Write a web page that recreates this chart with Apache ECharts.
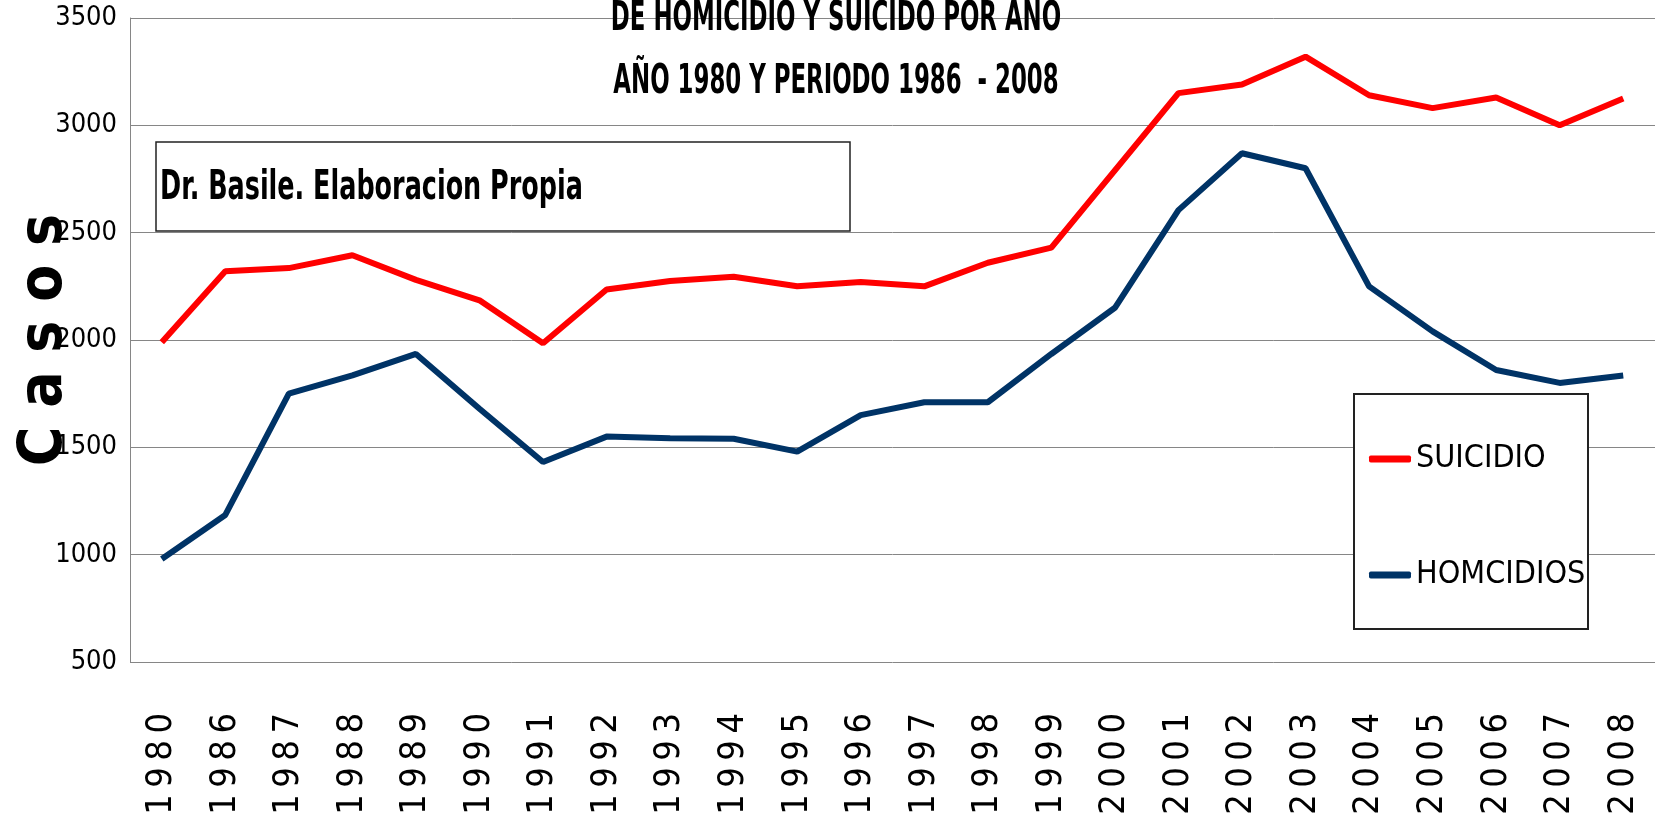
<!DOCTYPE html>
<html>
<head>
<meta charset="utf-8">
<script src="https://cdn.jsdelivr.net/npm/echarts@6/dist/echarts.min.js"></script>
<style>
    html, body { margin: 0; padding: 0; background: #fff; }
    #chart { width: 1674px; height: 818px; }
</style>
</head>
<body>
<div id="chart"></div>
<script>
    const years = ['1980', '1986', '1987', '1988', '1989', '1990', '1991', '1992', '1993', '1994', '1995', '1996',
        '1997', '1998', '1999', '2000', '2001', '2002', '2003', '2004', '2005', '2006', '2007', '2008']
    const suicidio = [1990, 2320, 2335, 2395, 2280, 2185, 1985, 2235, 2275, 2295, 2250, 2270,
        2250, 2360, 2430, 2790, 3150, 3190, 3320, 3140, 3080, 3130, 3000, 3125]
    const homicidios = [980, 1185, 1750, 1835, 1935, 1680, 1432, 1550, 1542, 1540, 1480, 1650,
        1710, 1710, 1935, 2150, 2605, 2870, 2800, 2250, 2040, 1860, 1800, 1835]
    const yTicks = {min: 500, max: 3500, interval: 500}
    const titleLines = ['DE HOMICIDIO Y SUICIDO POR ANO', 'AÑO 1980 Y PERIODO 1986  - 2008']
    const note = 'Dr. Basile. Elaboracion Propia'

    const narrow = '"DejaVu Sans Condensed", "DejaVu Sans", sans-serif'
    const gridColor = '#868686'

    // squeezed bold text, the source uses a tall narrow font
    function squeezed(text, x, y, align, size, sx) {
        return {
            type: 'text',
            x: x,
            y: y,
            scaleX: sx,
            z: 11,
            style: {
                text: text,
                fontFamily: narrow,
                fontWeight: 'bold',
                fontSize: size,
                fill: '#000',
                align: align,
                verticalAlign: 'middle'
            }
        }
    }

    const chart = echarts.init(document.getElementById('chart'))
    chart.setOption({
        animation: false,
        grid: {left: 130, right: 19, top: 18, bottom: 156, outerBoundsMode: 'none', containLabel: false},
        legend: {
            orient: 'vertical',
            left: 1364,
            top: 438,
            itemGap: 84,
            itemWidth: 42,
            itemHeight: 7,
            icon: 'roundRect',
            textStyle: {fontFamily: narrow, fontSize: 32, color: '#000'},
            data: ['SUICIDIO', 'HOMCIDIOS']
        },
        xAxis: {
            type: 'category',
            data: years,
            boundaryGap: true,
            axisLine: {show: false},
            axisTick: {show: false},
            axisLabel: {
                rotate: 90,
                margin: 51,
                fontFamily: narrow,
                fontSize: 36,
                color: '#000',
                formatter: v => v.split('').join('\u2009')
            }
        },
        yAxis: {
            type: 'value',
            min: yTicks.min,
            max: yTicks.max,
            interval: yTicks.interval,
            name: 'C a s o s',
            nameLocation: 'middle',
            nameRotate: 90,
            nameGap: 55,
            nameMoveOverlap: false,
            nameTextStyle: {fontFamily: narrow, fontWeight: 'bold', fontSize: 60, color: '#000'},
            axisLine: {show: true, lineStyle: {color: gridColor, width: 1}},
            axisTick: {show: false},
            splitLine: {lineStyle: {color: gridColor, width: 1}},
            axisLabel: {margin: 13, fontFamily: narrow, fontSize: 27, color: '#000', formatter: v => String(v)}
        },
        graphic: [
            squeezed(titleLines[0], 836, 19, 'center', 41, 0.62),
            squeezed(titleLines[1], 836, 82, 'center', 41, 0.62),
            {
                type: 'rect',
                shape: {x: 156, y: 142, width: 694, height: 89},
                style: {fill: '#fff', stroke: '#222', lineWidth: 1.5},
                z: 10
            },
            squeezed(note, 160, 188, 'left', 41, 0.69),
            {
                type: 'rect',
                shape: {x: 1354, y: 394, width: 234, height: 235},
                style: {fill: '#fff', stroke: '#222', lineWidth: 2},
                z: 1
            }
        ],
        series: [
            {
                name: 'SUICIDIO',
                type: 'line',
                data: suicidio,
                showSymbol: false,
                color: '#ff0000',
                lineStyle: {width: 6, color: '#ff0000'}
            },
            {
                name: 'HOMCIDIOS',
                type: 'line',
                data: homicidios,
                showSymbol: false,
                color: '#003366',
                lineStyle: {width: 6, color: '#003366'}
            }
        ]
    })
</script>
</body>
</html>
